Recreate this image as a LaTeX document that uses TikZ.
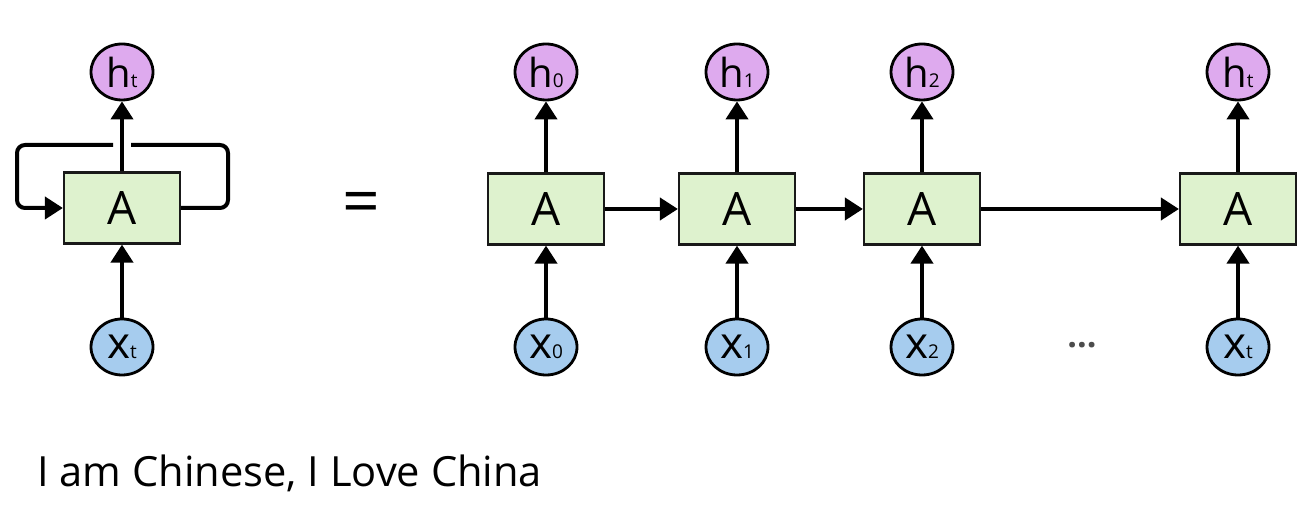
\documentclass[tikz,border=0pt]{standalone}
\usepackage{fontspec}
\setmainfont{Open Sans}
\usetikzlibrary{arrows.meta,shapes.geometric}

\definecolor{hcol}{RGB}{222,170,238}
\definecolor{xcol}{RGB}{166,204,238}
\definecolor{acol}{RGB}{222,242,206}
\newcommand{\ix}[1]{{\fontsize{9.5}{9.5}\selectfont #1}}

\begin{document}
\begin{tikzpicture}[x=0.5pt, y=-0.5pt,
		hnode/.style={ellipse, draw=black, line width=1.4pt, fill=hcol, minimum width=31pt, minimum height=28pt, inner sep=0pt, font=\fontsize{20}{20}\selectfont},
		xnode/.style={ellipse, draw=black, line width=1.4pt, fill=xcol, minimum width=31pt, minimum height=28pt, inner sep=0pt, font=\fontsize{22}{22}\selectfont},
		cell/.style={rectangle, draw=black!90, line width=1.1pt, fill=acol, minimum width=58pt, minimum height=35.5pt, inner sep=0pt, font=\fontsize{23}{23}\selectfont},
		link/.style={line width=2pt, -{Triangle[width=11pt,length=9pt]}},
		loopline/.style={line width=2pt, rounded corners=4pt}]
	\useasboundingbox (0,0) rectangle (1310,506);
	
	% folded network
	\node[hnode] (hl) at (122,72) {h\ix{t}};
	\node[cell] (al) at (122,208) {A};
	\node[xnode] (xl) at (122,347) {x\ix{t}};
	\coordinate (gapr) at (131,145);
	\coordinate (gapl) at (113,145);
	
	\path[link] (al) edge (hl);
	\path[link] (xl) edge (al);
	\draw[loopline] (al.east) -- (228,208) |- (gapr);
	\draw[loopline, link] (gapl) -- (17,145) |- (al.west);
	
	\node[font=\fontsize{33}{33}\selectfont] (eq) at (361,208) {=};
	
	% unrolled network
	\node[hnode] (h0) at (546,72) {h\ix{0}};
	\node[hnode] (h1) at (737,72) {h\ix{1}};
	\node[hnode] (h2) at (922,72) {h\ix{2}};
	\node[hnode] (ht) at (1238,72) {h\ix{t}};
	
	\node[cell] (a0) at (546,209) {A};
	\node[cell] (a1) at (737,209) {A};
	\node[cell] (a2) at (922,209) {A};
	\node[cell] (at) at (1238,209) {A};
	
	\node[xnode] (x0) at (546,347) {x\ix{0}};
	\node[xnode] (x1) at (737,347) {x\ix{1}};
	\node[xnode] (x2) at (922,347) {x\ix{2}};
	\node[xnode] (xt) at (1238,347) {x\ix{t}};
	
	\node[text=black!70, font=\fontsize{17}{17}\bfseries] (dots) at (1082,345) {...};
	
	\path[link] (a0) edge (h0);
	\path[link] (a1) edge (h1);
	\path[link] (a2) edge (h2);
	\path[link] (at) edge (ht);
	
	\path[link] (x0) edge (a0);
	\path[link] (x1) edge (a1);
	\path[link] (x2) edge (a2);
	\path[link] (xt) edge (at);
	
	\path[link] (a0) edge (a1);
	\path[link] (a1) edge (a2);
	\path[link] (a2) edge (at);
	
	\node[anchor=base west, inner sep=0pt, font=\fontsize{20.8}{24}\selectfont] (caption) at (37,487) {I am Chinese, I Love China};
\end{tikzpicture}
\end{document}
